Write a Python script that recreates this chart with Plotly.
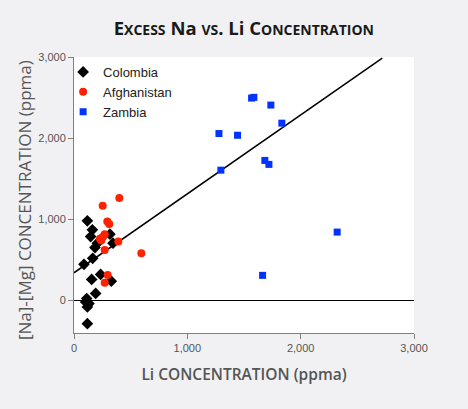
import plotly.graph_objects as go

# Colombia (black diamonds)
colombia_li = [118, 162, 147, 317, 344, 206, 185, 165, 88, 235, 156, 329, 191, 112, 103, 132, 118, 118]
colombia_na = [982, 871, 788, 817, 706, 706, 652, 520, 446, 322, 260, 239, 87, 25, -17, -37, -79, -285]

# Afghanistan (red circles)
afghan_li = [400, 253, 294, 311, 271, 229, 240, 256, 245, 391, 271, 594, 297, 271]
afghan_na = [1264, 1168, 974, 942, 817, 760, 740, 785, 770, 726, 623, 582, 313, 218]

# Zambia (blue squares)
zambia_li = [1279, 1443, 1296, 1567, 1587, 1737, 1834, 1684, 1720, 2322, 1664]
zambia_na = [2057, 2036, 1606, 2494, 2503, 2408, 2185, 1726, 1677, 843, 310]

# Regression line end points
fit_li = [0, 2720]
fit_na = [342, 2986]

tick_vals = [0, 1000, 2000, 3000]
tick_text = ["0", "1,000", "2,000", "3,000"]

fig = go.Figure()
fig.add_trace(go.Scatter(x=fit_li, y=fit_na, mode="lines",
                         line=dict(color="black", width=1.5), showlegend=False, hoverinfo="skip"))
fig.add_trace(go.Scatter(x=colombia_li, y=colombia_na, mode="markers", name="Colombia",
                         marker=dict(symbol="diamond", size=9, color="black")))
fig.add_trace(go.Scatter(x=afghan_li, y=afghan_na, mode="markers", name="Afghanistan",
                         marker=dict(symbol="circle", size=8, color="#ff2200")))
fig.add_trace(go.Scatter(x=zambia_li, y=zambia_na, mode="markers", name="Zambia",
                         marker=dict(symbol="square", size=7, color="#0033ff")))

title_font = "'Open Sans', Lato, sans-serif"
small = "<span style='font-size:14px'>"
fig.update_layout(
    width=468, height=409,
    margin=dict(l=74, r=54, t=57, b=76),
    paper_bgcolor="#f1f1f3", plot_bgcolor="white",
    title=dict(
        text=("E" + small + "XCESS</span> Na " + small + "VS</span>. Li C" + small + "ONCENTRATION</span>"),
        x=0.521, xanchor="center", y=1 - 29 / 409, yanchor="middle", yref="container",
        font=dict(family=title_font, size=18.5, color="#1a1a1a", weight="bold")),
    legend=dict(x=-0.032, y=1.0, xanchor="left", yanchor="top", bgcolor="rgba(0,0,0,0)",
                font=dict(family="Liberation Sans, Arial, sans-serif", size=13, color="#222"),
                tracegroupgap=0, itemsizing="trace"),
    showlegend=True,
    annotations=[dict(text="[Na]-[Mg] CONCENTRATION (ppma)", textangle=-90,
                      xref="paper", yref="paper", x=-0.144, y=0.482,
                      xanchor="center", yanchor="middle", showarrow=False,
                      font=dict(family=title_font, size=17, color="#555"))],
)
axis_common = dict(
    showgrid=False, showline=True, linecolor="#808080", linewidth=1,
    ticks="outside", ticklen=5, tickcolor="#808080", tickwidth=1,
    tickvals=tick_vals, ticktext=tick_text,
    tickfont=dict(family="Liberation Sans, Arial, sans-serif", size=11, color="#555"),
)
fig.update_xaxes(range=[0, 3000], zeroline=False,
                 title=dict(text="Li CONCENTRATION (ppma)", standoff=15,
                            font=dict(family=title_font, size=15.5, color="#555", weight=600)),
                 **axis_common)
fig.update_yaxes(range=[-400, 3000], zeroline=True, zerolinecolor="black", zerolinewidth=1.3,
                 **axis_common)

fig.write_html("out.html", post_script="document.body.style.margin='0';",
               config={"displayModeBar": False})
